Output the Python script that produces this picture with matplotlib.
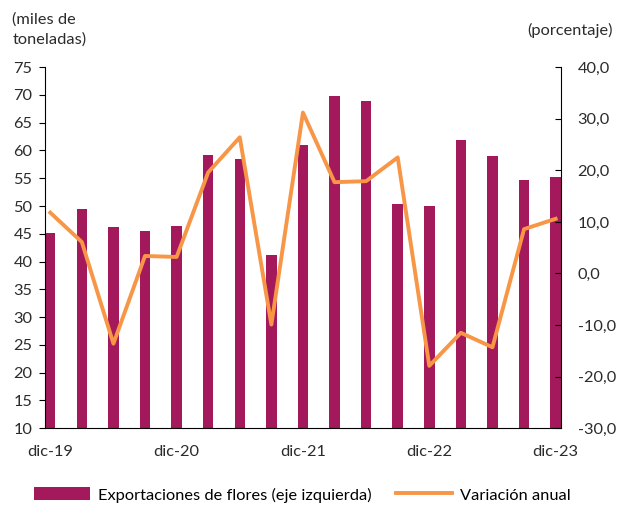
import matplotlib.pyplot as plt
import numpy as np

plt.rcParams['font.family'] = ['Lato', 'DejaVu Sans']

# quarterly data, dic-19 .. dic-23
quarters = ['dic-19', 'mar-20', 'jun-20', 'sep-20', 'dic-20', 'mar-21', 'jun-21', 'sep-21',
            'dic-21', 'mar-22', 'jun-22', 'sep-22', 'dic-22', 'mar-23', 'jun-23', 'sep-23', 'dic-23']
exportaciones = [45.1, 49.5, 46.2, 45.5, 46.4, 59.2, 58.5, 41.1, 61.0,
                 69.8, 68.9, 50.4, 50.0, 61.9, 59.0, 54.6, 55.2]
variacion = [11.8, 6.1, -13.6, 3.4, 3.2, 19.6, 26.4, -9.9, 31.2,
             17.7, 17.9, 22.5, -17.9, -11.5, -14.3, 8.6, 10.6]

bar_color = '#A3195B'
line_color = '#F79646'
txt = '#2b2b2b'
fs = 11.8

fig = plt.figure(figsize=(6.17, 5.05), dpi=100)
ax1 = fig.add_axes([0.073, 0.152, 0.836, 0.715])

x = np.arange(len(quarters))
w = 0.33
ax1.bar(x, exportaciones, width=w, color=bar_color, zorder=2,
        label='Exportaciones de flores (eje izquierda)')
ax1.set_xlim(-w / 2, len(x) - 1 + w / 2)
ax1.set_ylim(10, 75)
ax1.set_yticks(np.arange(10, 76, 5))
ax1.tick_params(axis='y', direction='out', length=4, labelsize=fs, pad=5,
                colors='black', labelcolor=txt)

# labels at every 4th quarter, ticks at the left edge of those bars
ax1.set_xticks(x[::4])
ax1.set_xticklabels([quarters[i] for i in x[::4]], fontsize=fs, color=txt)
ax1.tick_params(axis='x', length=0, pad=12)
ax1.set_xticks(x[::4] - w / 2, minor=True)
ax1.tick_params(axis='x', which='minor', direction='in', length=4, color='black')

ax1.spines['top'].set_visible(False)
ax1.spines['right'].set_visible(False)
ax1.spines['left'].set_color('black')
ax1.spines['bottom'].set_color('black')

ax2 = ax1.twinx()
ax2.plot(x, variacion, color=line_color, linewidth=2.8, zorder=3, label='Variación anual')
ax2.set_ylim(-30, 40)
ax2.set_yticks(np.arange(-30, 41, 10))
ax2.set_yticklabels([f'{v:.1f}'.replace('.', ',') for v in np.arange(-30, 41, 10)])
ax2.tick_params(axis='y', direction='in', length=4, labelsize=fs, pad=12,
                colors='black', labelcolor=txt)
for s in ['top', 'left', 'bottom']:
    ax2.spines[s].set_visible(False)
ax2.spines['right'].set_color('black')

fig.text(0.02, 0.975, '(miles de\ntoneladas)', fontsize=fs, color=txt,
         va='top', ha='left', linespacing=1.45)
fig.text(0.993, 0.94, '(porcentaje)', fontsize=fs, color=txt, va='center', ha='right')

h1, l1 = ax1.get_legend_handles_labels()
h2, l2 = ax2.get_legend_handles_labels()
fig.legend(h1 + h2, l1 + l2, loc='center', bbox_to_anchor=(0.49, 0.02), ncol=2,
           frameon=False, fontsize=fs, handlelength=3.4, handleheight=0.85,
           columnspacing=1.5, handletextpad=0.5)

fig.savefig('out.png', dpi=100)
